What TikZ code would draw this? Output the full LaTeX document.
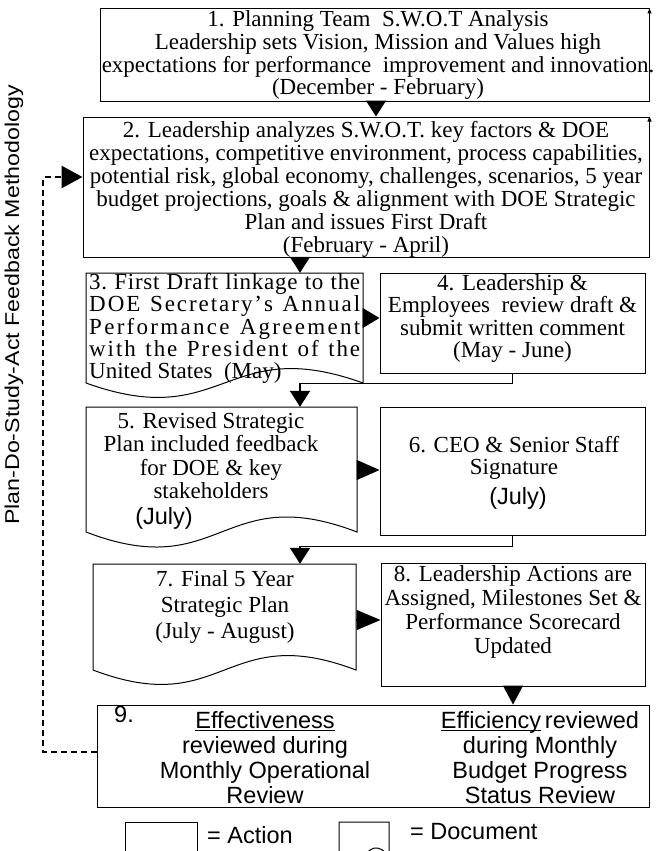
\documentclass[tikz,border=0pt]{standalone}
\usepackage{fontspec}
\setmainfont{Liberation Serif}
\setsansfont{Liberation Sans}
\usetikzlibrary{arrows.meta}
\newcommand\spreadtext[2]{\hbox to #1{\spreadA#2\relax}}
\def\spreadA#1{#1\spreadB}
\def\spreadB#1{\ifx#1\relax\else\hfil#1\expandafter\spreadB\fi}
\newcommand\tl[2]{\begin{tabular}{@{}#1@{}}#2\end{tabular}}
\newlength\ulw
\newcommand\ulx[1]{\settowidth\ulw{#1}\rlap{\rule[-2.6pt]{\ulw}{0.9pt}}#1}
\begin{document}
\begin{tikzpicture}[x=1pt,y=-1pt,
  abox/.style={draw, line width=1pt, inner sep=0pt},
  ghost/.style={inner sep=0pt},
  serift/.style={inner sep=0pt, font=\fontsize{23}{#1}\selectfont},
  sanst/.style={inner sep=0pt, font=\sffamily\fontsize{23.5}{#1}\selectfont},
  docshape/.style={draw, line width=1pt},
  tipline/.style={line width=1.5pt, -{Triangle[length=#1, width=20pt]}},
  conn/.style={line width=1.8pt, -{Triangle[length=16pt, width=20pt]}},
  fb/.style={line width=2.8pt, dash pattern=on 6pt off 4pt, -{Triangle[length=21pt, width=22pt]}},
  corner/.style={line width=0.8pt, -{Triangle[length=5pt, width=4pt]}}
]
\useasboundingbox (0,0) rectangle (663,851);
\clip (0,0) rectangle (663,851);
% boxes
\node[abox, minimum width=549, minimum height=92] (b1) at (374.5,55) {};
\node[abox, minimum width=566, minimum height=140] (b2) at (366,187) {};
\draw[docshape] (86,273) -- (86,383) .. controls (224.5,433) and (224.5,333) .. (363,383) -- (363,273) -- cycle;
\node[ghost, minimum width=277, minimum height=110] (b3) at (224.5,328) {};
\node[abox, minimum width=265, minimum height=100] (b4) at (512.5,323) {};
\draw[docshape] (86,407) -- (86,532) .. controls (221.5,584) and (221.5,480) .. (357,532) -- (357,407) -- cycle;
\node[ghost, minimum width=271, minimum height=125] (b5) at (221.5,469.5) {};
\node[abox, minimum width=265, minimum height=128] (b6) at (512.5,471) {};
\draw[docshape] (93,564) -- (93,670) .. controls (224.5,720) and (224.5,620) .. (356,670) -- (356,564) -- cycle;
\node[ghost, minimum width=263, minimum height=106] (b7) at (224.5,617) {};
\node[abox, minimum width=264, minimum height=123] (b8) at (513,624.5) {};
\node[abox, minimum width=552, minimum height=102] (b9) at (373,756) {};
% legend
\node[abox, minimum width=72, minimum height=48] (la) at (161,846) {};
\draw[docshape] (339,822) -- (339,856) .. controls (364,884) and (364,828) .. (389,856) -- (389,822) -- cycle;
\node[ghost, minimum width=50, minimum height=34] (ld) at (364,839) {};
% helper coordinates
\coordinate (x12) at (376,0);
\coordinate (x300) at (300,0);
\coordinate (y34) at (0,318);
\coordinate (y56) at (0,470);
\coordinate (y78) at (0,620);
\coordinate (fbb) at (43,752);
\coordinate (fbt) at (43,177);
% connectors
\draw[tipline=16pt] (b1.south -| x12) -- (b2.north -| x12);
\draw[tipline=16pt] (b2.south -| x300) -- (b3.north -| x300);
\draw[tipline=17pt] (b3.east |- y34) -- (b4.west |- y34);
\draw[conn] (b4.south) -- ++(0,10) -| (b5.north -| x300);
\draw[tipline=23pt] (b5.east |- y56) -- (b6.west |- y56);
\draw[conn] (b6.south) -- ++(0,11) -| (b7.north -| x300);
\draw[tipline=24pt] (b7.east |- y78) -- (b8.west |- y78);
\draw[tipline=19pt] (b8.south) -- (b8.south |- b9.north);
\draw[fb] (b9.west |- fbb) -- (fbb) -- (fbt) -- (b2.west |- fbt);
\draw[corner] ([yshift=-8pt]b1.north east) -- (b1.north east);
\draw[corner] ([yshift=-8pt]b2.north east) -- (b2.north east);
% texts
\node[serift=22] (t1) at (378,56) {\tl{c}{1. Planning Team~~S.W.O.T Analysis\\
Leadership sets Vision, Mission and Values high\\
expectations for performance~~improvement and innovation.\\
(December - February)}};
\node[serift=23] (t2) at (366,190) {\tl{c}{2. Leadership analyzes S.W.O.T. key factors \& DOE\\
expectations, competitive environment, process capabilities,\\
potential risk, global economy, challenges, scenarios, 5 year\\
budget projections, goals \& alignment with DOE Strategic\\
Plan and issues First Draft\\
(February - April)}};
\node[serift=20.5, anchor=west] (t3) at (89,329) {\tl{l}{\spreadtext{271pt}{3.~First~Draft~linkage~to~the}\\
\spreadtext{271pt}{DOE~Secretary's~Annual}\\
\spreadtext{271pt}{Performance~Agreement}\\
\spreadtext{271pt}{with~the~President~of~the}\\
United States~~(May)}};
\node[serift=21.5] (t4) at (512.5,319) {\tl{c}{4. Leadership \&\\
Employees~~review draft \&\\
submit written comment\\
(May - June)}};
\node[serift=23.5] (t5) at (211,459) {\tl{c}{5. Revised Strategic\\
Plan included feedback\\
for DOE \& key\\
stakeholders}};
\node[sanst=24] (t5b) at (164,518) {(July)};
\node[serift=22] (t6) at (514,459) {\tl{c}{6. CEO \& Senior Staff\\
Signature}};
\node[sanst=24] (t6b) at (518,498) {(July)};
\node[serift=26] (t7) at (225,607) {\tl{c}{7. Final 5 Year\\
Strategic Plan\\
(July - August)}};
\node[serift=24] (t8) at (513,613) {\tl{c}{8. Leadership Actions are\\
Assigned, Milestones Set \&\\
Performance Scorecard\\
Updated}};
\node[sanst=24] (t9n) at (124,714) {9.};
\node[sanst=25] (t9a) at (265,761) {\tl{c}{\ulx{Effectiveness}\\
reviewed during\\
Monthly Operational\\
Review}};
\node[sanst=25] (t9b) at (540,761) {\tl{c}{\ulx{Efficiency}\,reviewed\\
during Monthly\\
Budget Progress\\
Status Review}};
\node[sanst=24, anchor=west] (lat) at (207,835) {= Action};
\node[sanst=24, anchor=west] (ldt) at (410,832) {= Document};
\node (side) at (14,305) {\rotatebox{90}{\scalebox{1.16}[1]{\sffamily\fontsize{20}{20}\selectfont Plan-Do-Study-Act Feedback Methodology}}};
\end{tikzpicture}
\end{document}
